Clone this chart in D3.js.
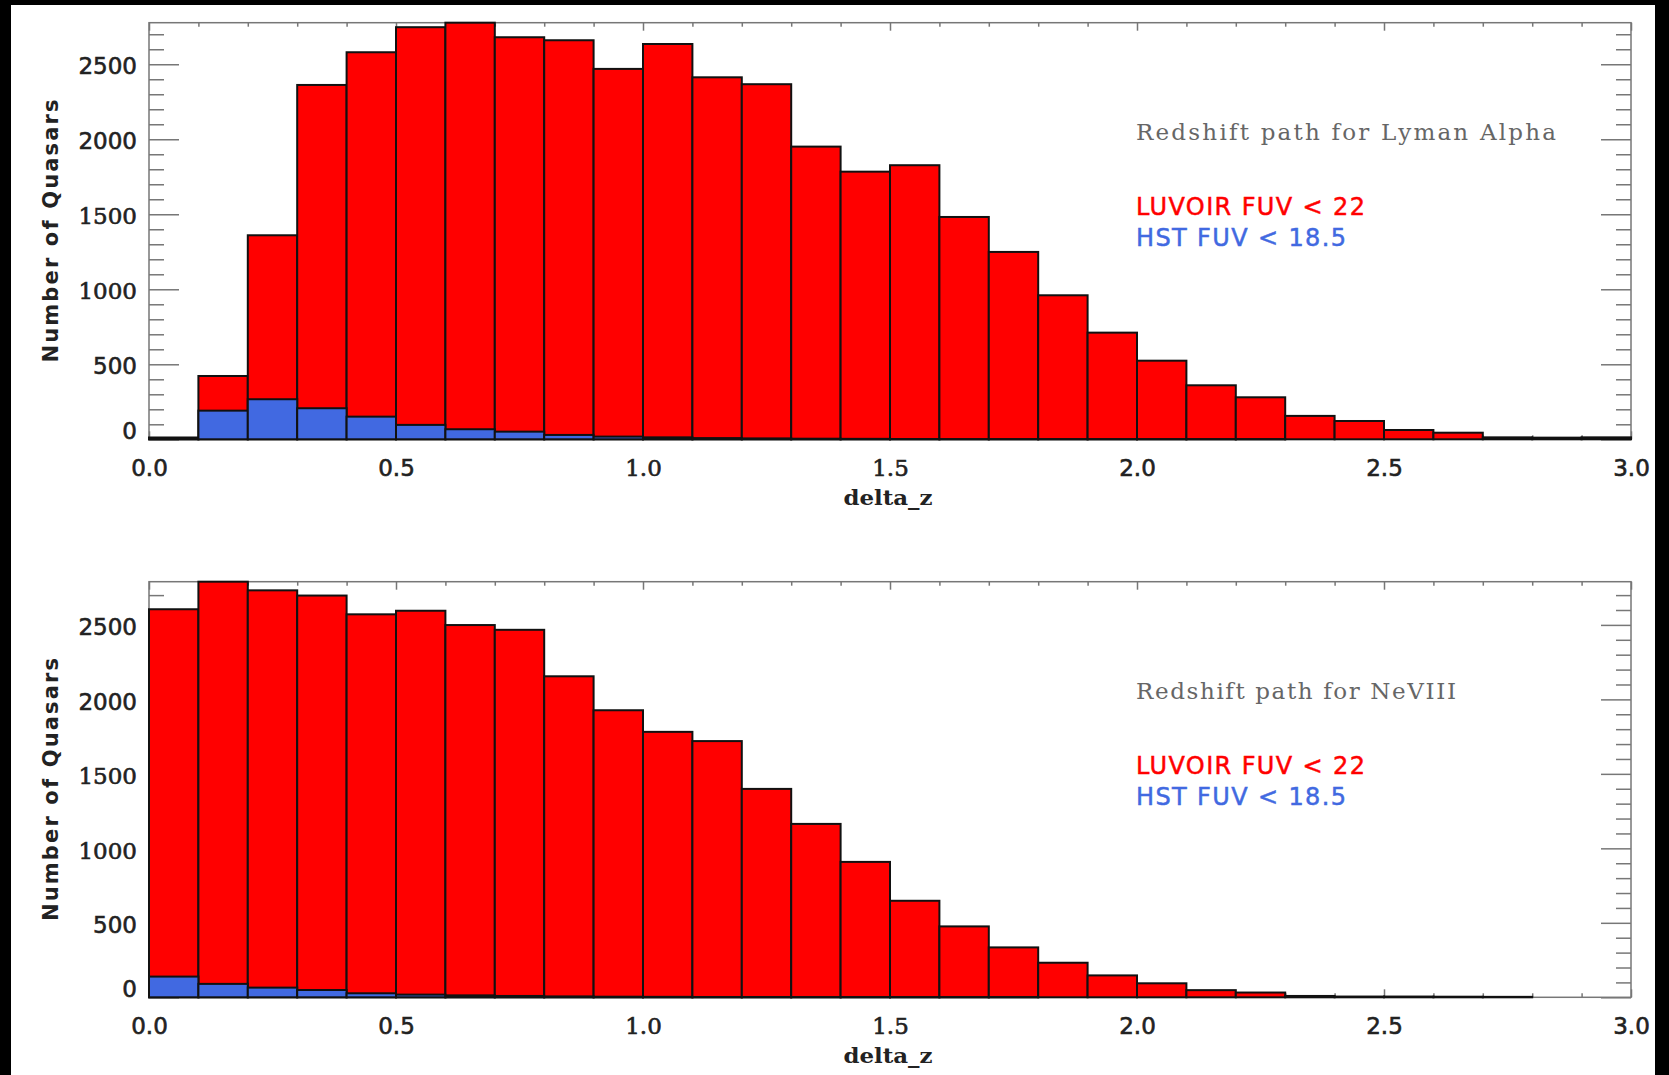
<html lang="en">
  <head>
    <meta charset="UTF-8" />
    <title>Redshift path</title>
    <style>
      body { margin: 0; background: #000; }
      svg { display: block; }
    </style>
  </head>
  <body>
    <script src="https://cdn.jsdelivr.net/npm/d3@7"></script>
    <script>
      // bin left edges (delta_z), bin width 0.1
      const binStart = [0.0, 0.1, 0.2, 0.3, 0.4, 0.5, 0.6, 0.7, 0.8, 0.9,
                        1.0, 1.1, 1.2, 1.3, 1.4, 1.5, 1.6, 1.7, 1.8, 1.9,
                        2.0, 2.1, 2.2, 2.3, 2.4, 2.5, 2.6, 2.7, 2.8, 2.9];
      const binWidth = 0.1;

      // Lyman Alpha
      const lyaLuvoir = [12, 422, 1360, 2362, 2580, 2747, 2777, 2680, 2660, 2469,
                         2635, 2413, 2367, 1951, 1784, 1827, 1482, 1249, 960, 711,
                         524, 360, 280, 156, 122, 62, 44, 13, 11, 13];
      const lyaHst = [8, 191, 267, 207, 151, 96, 67, 51, 29, 18,
                      13, 8, 6, 4, 3, 2, 1, 1, 1, 1,
                      1, 1, 1, 0, 0, 0, 0, 0, 0, 0];

      // NeVIII
      const nevLuvoir = [2605, 2790, 2732, 2697, 2571, 2595, 2499, 2467, 2155, 1927,
                         1782, 1720, 1399, 1164, 909, 648, 476, 335, 232, 147,
                         94, 48, 32, 9, 5, 5, 4, 3, 0, 0];
      const nevHst = [139, 90, 65, 49, 27, 18, 13, 9, 6, 4,
                      3, 2, 2, 1, 1, 1, 1, 1, 0, 0,
                      0, 0, 0, 0, 0, 0, 0, 0, 0, 0];

      const xMajor = [0.0, 0.5, 1.0, 1.5, 2.0, 2.5, 3.0];
      const xMinor = [0.1, 0.2, 0.3, 0.4, 0.6, 0.7, 0.8, 0.9, 1.1, 1.2, 1.3, 1.4,
                      1.6, 1.7, 1.8, 1.9, 2.1, 2.2, 2.3, 2.4, 2.6, 2.7, 2.8, 2.9];
      const yMajor = [0, 500, 1000, 1500, 2000, 2500];
      const yMinor = [100, 200, 300, 400, 600, 700, 800, 900, 1100, 1200, 1300, 1400,
                      1600, 1700, 1800, 1900, 2100, 2200, 2300, 2400, 2600, 2700];

      const legendLabels = ["LUVOIR FUV < 22", "HST FUV < 18.5"];
      const colors = { luvoir: "#ff0000", hst: "#4169e1" };

      const panels = [
        { title: "Redshift path for Lyman Alpha", red: lyaLuvoir, blue: lyaHst, top: 22.7, bottom: 439.3, titleLen: 420 },
        { title: "Redshift path for NeVIII", red: nevLuvoir, blue: nevHst, top: 581.7, bottom: 997.3, titleLen: 320 }
      ];

      const width = 1669, height = 1075;
      const left = 149, right = 1631;

      const svg = d3.select("body").append("svg")
        .attr("width", width)
        .attr("height", height);

      // black frame of the original screenshot
      svg.append("rect").attr("width", width).attr("height", height).attr("fill", "#000");
      svg.append("rect").attr("x", 11).attr("y", 5)
        .attr("width", 1655 - 11).attr("height", height - 5)
        .attr("fill", "#fff");

      const x = d3.scaleLinear().domain([0, 3]).range([left, right]);
      const tickFont = d => String(d).includes("1") ? "DejaVu Serif" : "DejaVu Sans";

      panels.forEach(p => {
        const y = d3.scaleLinear().domain([0, d3.max(p.red)]).range([p.bottom, p.top]);
        const g = svg.append("g");

        const styleAxis = sel => {
          sel.select(".domain").remove();
          sel.selectAll(".tick line").attr("stroke", "#777").attr("stroke-width", 1.5);
        };

        // minor + major ticks on all four sides (pointing inward)
        g.append("g").attr("transform", `translate(${left},0)`)
          .call(d3.axisLeft(y).tickValues(yMinor).tickSize(-15).tickFormat(""))
          .call(styleAxis);
        g.append("g").attr("transform", `translate(${right},0)`)
          .call(d3.axisRight(y).tickValues(yMinor).tickSize(-15).tickFormat(""))
          .call(styleAxis);
        g.append("g").attr("transform", `translate(${right},0)`)
          .call(d3.axisRight(y).tickValues(yMajor).tickSize(-30).tickFormat(""))
          .call(styleAxis);
        g.append("g").attr("transform", `translate(0,${p.top})`)
          .call(d3.axisTop(x).tickValues(xMinor).tickSize(-4).tickFormat(""))
          .call(styleAxis);
        g.append("g").attr("transform", `translate(0,${p.top})`)
          .call(d3.axisTop(x).tickValues(xMajor).tickSize(-8).tickFormat(""))
          .call(styleAxis);
        g.append("g").attr("transform", `translate(0,${p.bottom})`)
          .call(d3.axisBottom(x).tickValues(xMinor).tickSize(-4).tickFormat(""))
          .call(styleAxis);

        const yAx = g.append("g").attr("transform", `translate(${left},0)`)
          .call(d3.axisLeft(y).tickValues(yMajor).tickSize(-30).tickPadding(12).tickFormat(d3.format("d")))
          .call(styleAxis);
        yAx.selectAll("text")
          .attr("font-family", d => tickFont(d))
          .attr("font-size", 23)
          .attr("fill", "#222").attr("stroke", "#222").attr("stroke-width", 0.6)
          .attr("dy", d => d === 0 ? "-0.05em" : "0.42em");

        const xAx = g.append("g").attr("transform", `translate(0,${p.bottom})`)
          .call(d3.axisBottom(x).tickValues(xMajor).tickSize(-8).tickPadding(20).tickFormat(d3.format(".1f")))
          .call(styleAxis);
        xAx.selectAll("text")
          .attr("font-family", d => tickFont(d3.format(".1f")(d)))
          .attr("font-size", 23)
          .attr("fill", "#222").attr("stroke", "#222").attr("stroke-width", 0.6);

        // frame
        g.append("rect")
          .attr("x", left).attr("y", p.top)
          .attr("width", right - left).attr("height", p.bottom - p.top)
          .attr("fill", "none").attr("stroke", "#777").attr("stroke-width", 1.5);

        // LUVOIR histogram, HST overplotted
        g.append("g").selectAll("rect")
          .data(binStart.map((b, i) => ({ b, v: p.red[i] })))
          .join("rect")
          .attr("x", d => x(d.b))
          .attr("width", d => x(d.b + binWidth) - x(d.b))
          .attr("y", d => y(d.v))
          .attr("height", d => y(0) - y(d.v))
          .attr("fill", colors.luvoir)
          .attr("stroke", "#111").attr("stroke-width", 2);

        g.append("g").selectAll("rect")
          .data(binStart.map((b, i) => ({ b, v: p.blue[i] })).filter(d => d.v > 0))
          .join("rect")
          .attr("x", d => x(d.b))
          .attr("width", d => x(d.b + binWidth) - x(d.b))
          .attr("y", d => y(d.v))
          .attr("height", d => y(0) - y(d.v))
          .attr("fill", colors.hst)
          .attr("stroke", "#111").attr("stroke-width", 2);

        // axis titles
        g.append("text")
          .attr("transform", `translate(58,${(p.top + p.bottom) / 2}) rotate(-90)`)
          .attr("text-anchor", "middle")
          .attr("font-family", "DejaVu Sans").attr("font-weight", "bold")
          .attr("font-size", 21).attr("fill", "#222")
          .attr("textLength", 263).attr("lengthAdjust", "spacing")
          .text("Number of Quasars");

        g.append("text")
          .attr("x", 888).attr("y", p.bottom + 66)
          .attr("text-anchor", "middle")
          .attr("font-family", "DejaVu Serif").attr("font-weight", "bold")
          .attr("font-size", 21).attr("fill", "#222")
          .attr("textLength", 89).attr("lengthAdjust", "spacingAndGlyphs")
          .text("delta_z");

        // annotations
        g.append("text")
          .attr("x", 1136).attr("y", p.top + 117.5)
          .attr("font-family", "DejaVu Serif").attr("font-size", 23)
          .attr("fill", "#666")
          .attr("textLength", p.titleLen).attr("lengthAdjust", "spacing")
          .text(p.title);

        g.selectAll(".legend")
          .data(legendLabels)
          .join("text")
          .attr("x", 1136)
          .attr("y", (d, i) => p.top + 192.5 + i * 31)
          .attr("font-family", "DejaVu Sans").attr("font-size", 24)
          .attr("fill", (d, i) => i === 0 ? colors.luvoir : colors.hst)
          .attr("stroke", (d, i) => i === 0 ? colors.luvoir : colors.hst).attr("stroke-width", 0.5)
          .attr("textLength", (d, i) => i === 0 ? 229 : 210).attr("lengthAdjust", "spacing")
          .text(d => d);
      });
    </script>
  </body>
</html>
